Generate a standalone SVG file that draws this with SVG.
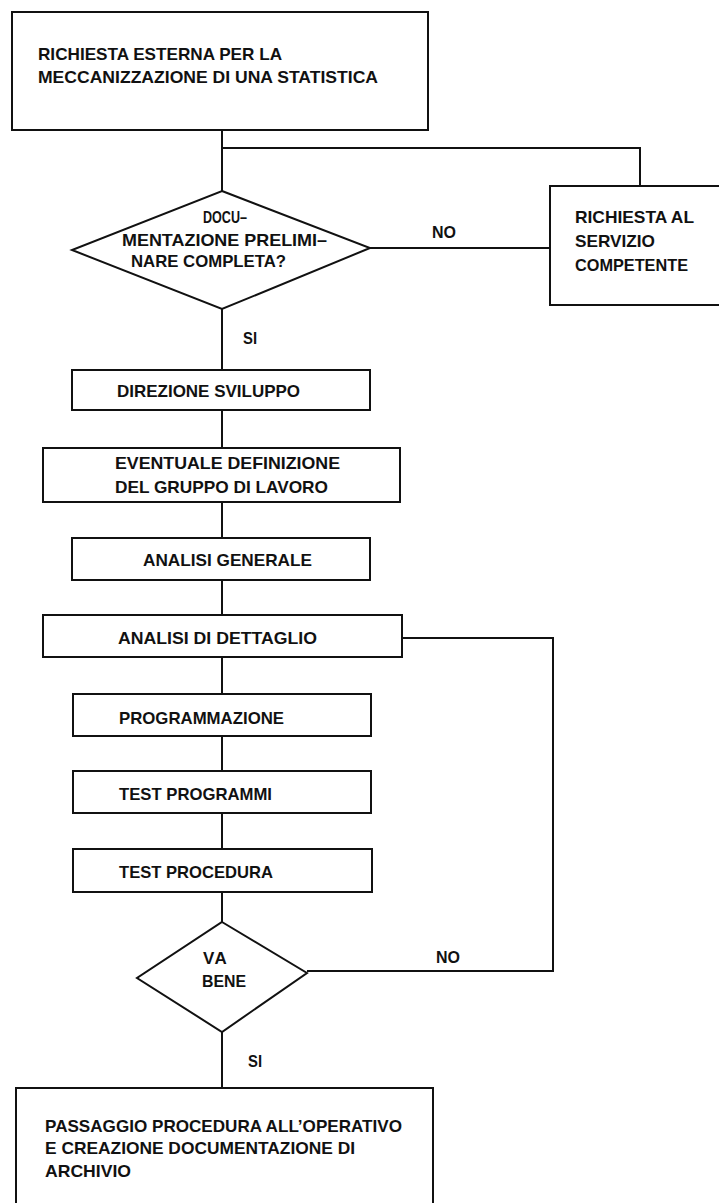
<svg xmlns="http://www.w3.org/2000/svg" width="719" height="1203" viewBox="0 0 719 1203">
<style>
.box{fill:none;stroke:#111;stroke-width:2}
.ln{fill:none;stroke:#111;stroke-width:2}
text{font-family:"Liberation Sans",Arial,sans-serif;font-weight:bold;font-size:17px;fill:#111}
</style>
<rect width="719" height="1203" fill="#ffffff"/>
<g id="connectors">
<path class="ln" d="M222 130V191"/>
<path class="ln" d="M222 148H640V186"/>
<path class="ln" d="M370 248H550"/>
<path class="ln" d="M222 309V370"/>
<path class="ln" d="M222 410V448"/>
<path class="ln" d="M222 502V538"/>
<path class="ln" d="M222 580V615"/>
<path class="ln" d="M222 657V694"/>
<path class="ln" d="M222 736V771"/>
<path class="ln" d="M222 813V849"/>
<path class="ln" d="M222 892V922"/>
<path class="ln" d="M222 1032V1088"/>
<path class="ln" d="M402 638H553V971H307"/>
<text x="432" y="238" textLength="24" lengthAdjust="spacingAndGlyphs">NO</text>
<text x="243" y="344" textLength="14" lengthAdjust="spacingAndGlyphs">SI</text>
<text x="436" y="963" textLength="24" lengthAdjust="spacingAndGlyphs">NO</text>
<text x="248" y="1067" textLength="14" lengthAdjust="spacingAndGlyphs">SI</text>
</g>
<g id="richiesta-esterna">
<rect class="box" x="12" y="12" width="416" height="118"/>
<text x="38" y="60" textLength="244" lengthAdjust="spacingAndGlyphs">RICHIESTA ESTERNA PER LA</text>
<text x="38" y="83" textLength="340" lengthAdjust="spacingAndGlyphs">MECCANIZZAZIONE DI UNA STATISTICA</text>
</g>
<g id="documentazione">
<polygon class="box" points="222,191 370,248 222,309 72,250"/>
<text x="203" y="223" textLength="44" lengthAdjust="spacingAndGlyphs">DOCU–</text>
<text x="122" y="246" textLength="205" lengthAdjust="spacingAndGlyphs">MENTAZIONE PRELIMI–</text>
<text x="131" y="267" textLength="155" lengthAdjust="spacingAndGlyphs">NARE COMPLETA?</text>
</g>
<g id="richiesta-servizio">
<rect class="box" x="550" y="186" width="200" height="119"/>
<text x="575" y="223" textLength="119" lengthAdjust="spacingAndGlyphs">RICHIESTA AL</text>
<text x="575" y="247" textLength="80" lengthAdjust="spacingAndGlyphs">SERVIZIO</text>
<text x="575" y="271" textLength="113" lengthAdjust="spacingAndGlyphs">COMPETENTE</text>
</g>
<g id="direzione-sviluppo">
<rect class="box" x="72" y="370" width="298" height="40"/>
<text x="117" y="397" textLength="183" lengthAdjust="spacingAndGlyphs">DIREZIONE SVILUPPO</text>
</g>
<g id="gruppo-lavoro">
<rect class="box" x="43" y="448" width="357" height="54"/>
<text x="115" y="469" textLength="225" lengthAdjust="spacingAndGlyphs">EVENTUALE DEFINIZIONE</text>
<text x="115" y="493" textLength="213" lengthAdjust="spacingAndGlyphs">DEL GRUPPO DI LAVORO</text>
</g>
<g id="analisi-generale">
<rect class="box" x="72" y="538" width="298" height="42"/>
<text x="143" y="566" textLength="169" lengthAdjust="spacingAndGlyphs">ANALISI GENERALE</text>
</g>
<g id="analisi-dettaglio">
<rect class="box" x="43" y="615" width="359" height="42"/>
<text x="118" y="644" textLength="199" lengthAdjust="spacingAndGlyphs">ANALISI DI DETTAGLIO</text>
</g>
<g id="programmazione">
<rect class="box" x="73" y="694" width="298" height="42"/>
<text x="119" y="724" textLength="165" lengthAdjust="spacingAndGlyphs">PROGRAMMAZIONE</text>
</g>
<g id="test-programmi">
<rect class="box" x="73" y="771" width="298" height="42"/>
<text x="119" y="800" textLength="153" lengthAdjust="spacingAndGlyphs">TEST PROGRAMMI</text>
</g>
<g id="test-procedura">
<rect class="box" x="73" y="849" width="299" height="43"/>
<text x="119" y="878" textLength="154" lengthAdjust="spacingAndGlyphs">TEST PROCEDURA</text>
</g>
<g id="va-bene">
<polygon class="box" points="222,922 307,973 222,1032 137,978"/>
<text x="203" y="964" letter-spacing="1.5">VA</text>
<text x="202" y="987" textLength="44" lengthAdjust="spacingAndGlyphs">BENE</text>
</g>
<g id="passaggio-operativo">
<rect class="box" x="16" y="1088" width="417" height="140"/>
<text x="45" y="1132" textLength="357" lengthAdjust="spacingAndGlyphs">PASSAGGIO PROCEDURA ALL’OPERATIVO</text>
<text x="45" y="1154" textLength="310" lengthAdjust="spacingAndGlyphs">E CREAZIONE DOCUMENTAZIONE DI</text>
<text x="45" y="1177" textLength="86" lengthAdjust="spacingAndGlyphs">ARCHIVIO</text>
</g>
</svg>
